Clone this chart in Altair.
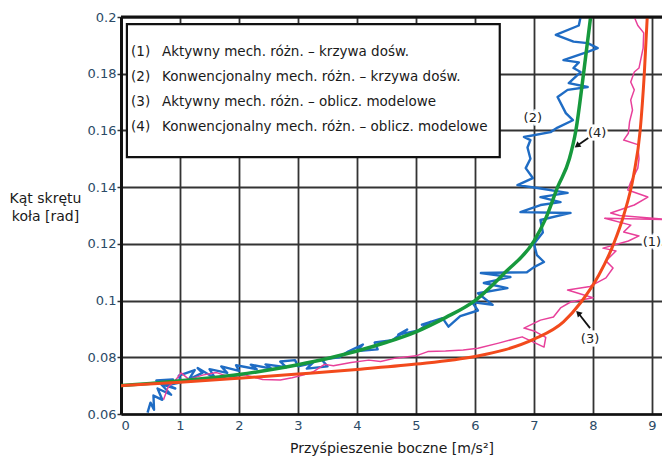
import altair as alt
import pandas as pd

FONT = "DejaVu Sans"

# ---- data ----
x_ticks = [0, 1, 2, 3, 4, 5, 6, 7, 8, 9]
y_ticks = [0.06, 0.08, 0.1, 0.12, 0.14, 0.16, 0.18, 0.2]

# (2) experimental, conventional differential (blue)
blue_x = [0.45, 0.50, 0.56, 0.55, 0.70, 0.62, 0.85, 0.68, 0.92, 0.60, 0.88, 0.75, 1.02, 0.98, 1.25,
          1.15, 1.38, 1.30, 1.60, 1.50, 1.80, 1.70, 2.00, 1.95, 2.30, 2.20, 2.55, 2.45, 2.80, 2.70,
          2.95, 3.00, 3.25, 3.15, 3.50, 3.40,
          3.70, 3.85, 4.10, 4.00, 4.35, 4.30, 4.60, 4.85, 4.70, 5.05, 5.25, 5.10, 5.45, 5.55,
          5.75, 6.05, 5.95, 6.30, 6.05, 6.55, 6.15, 6.60, 6.10, 6.88, 7.00, 7.17, 7.05, 7.00, 7.15,
          7.11, 7.62, 6.77, 7.11, 7.45, 7.11, 7.57, 7.06, 6.72, 6.98, 6.86, 6.94, 6.89, 6.94, 6.83,
          7.28, 7.40, 7.66, 7.54, 7.40, 7.57, 7.91, 7.59, 7.79, 7.67, 7.76, 7.50, 7.91, 8.08, 7.91,
          7.67, 7.37, 7.76, 7.79]
blue_y = [0.0605, 0.0640, 0.0615, 0.0665, 0.0650, 0.0690, 0.0668, 0.0705, 0.0690, 0.0718, 0.0722,
          0.0700, 0.0712, 0.0735, 0.0755, 0.0722, 0.0745, 0.0762, 0.0725, 0.0758, 0.0745, 0.0768,
          0.0752, 0.0772, 0.0758, 0.0774, 0.0760, 0.0775, 0.0765, 0.0785, 0.0790, 0.0768, 0.0780,
          0.0760, 0.0768, 0.0792,
          0.0800, 0.0820,
          0.0845, 0.0822, 0.0828, 0.0852, 0.0860, 0.0898, 0.0880, 0.0895, 0.0925, 0.0915, 0.0938,
          0.0908, 0.0945, 0.0965, 0.0995, 0.0985, 0.1026, 0.1044, 0.1062, 0.1083, 0.1097, 0.1100,
          0.1118, 0.1136, 0.1160, 0.1200, 0.1240, 0.1284, 0.1309, 0.1312, 0.1337, 0.1347, 0.1365,
          0.1380, 0.1397, 0.1407, 0.1432, 0.1467, 0.1500, 0.1540, 0.1566, 0.1577, 0.1594, 0.1610,
          0.1636, 0.1661, 0.1718, 0.1743, 0.1753, 0.1767, 0.1806, 0.1820, 0.1840, 0.1848, 0.1877,
          0.1890, 0.1908, 0.1913, 0.1937, 0.1970, 0.2000]

# (1) experimental, active differential (pink)
pink_x = [0.72, 0.80, 0.92, 1.02, 1.15, 1.40, 1.62, 1.85, 2.10, 2.40, 2.70, 2.90, 3.10, 3.25, 3.45,
          3.60, 3.90, 4.20, 4.40, 4.65, 5.00, 5.20, 5.50, 5.80, 6.05, 6.40, 6.80, 7.17, 7.20, 7.00,
          6.83, 7.11, 7.33, 7.45, 7.62, 8.00, 7.57, 7.95, 8.22, 8.34, 8.22, 8.39, 8.17, 8.60, 8.78,
          8.52, 8.64, 8.20, 9.30, 8.45, 8.30, 8.70, 8.93, 8.59, 8.64, 8.76, 8.78, 8.76, 8.52, 8.60,
          8.62, 8.67, 8.64, 8.70, 8.64, 8.70, 8.78, 8.85, 8.86, 8.76, 8.70]
pink_y = [0.0650, 0.0695, 0.0718, 0.0745, 0.0722, 0.0738, 0.0746, 0.0730, 0.0738, 0.0722, 0.0720,
          0.0728, 0.0738, 0.0748, 0.0775, 0.0770, 0.0782, 0.0790, 0.0785, 0.0797, 0.0805, 0.0820,
          0.0822, 0.0826, 0.0832, 0.0850, 0.0872, 0.0836, 0.0870, 0.0893, 0.0903, 0.0931, 0.0942,
          0.0974, 0.0995, 0.1010, 0.1037, 0.1050, 0.1080, 0.1115, 0.1140, 0.1175, 0.1185, 0.1210,
          0.1228, 0.1242, 0.1266, 0.1290, 0.1285, 0.1300, 0.1309, 0.1337, 0.1365, 0.1390, 0.1418,
          0.1467, 0.1500, 0.1550, 0.1566, 0.1590, 0.1630, 0.1672, 0.1707, 0.1743, 0.1771, 0.1806,
          0.1820, 0.1890, 0.1944, 0.1970, 0.2000]

# (4) model, conventional differential (green)
green_x = [0, 0.5, 1, 1.5, 2, 2.5, 3, 3.5, 4, 4.5, 5, 5.5, 6, 6.5, 7, 7.2, 7.4, 7.6, 7.71, 7.84, 7.96]
green_y = [0.0700, 0.0708, 0.0717, 0.0727, 0.0739, 0.0755, 0.0774, 0.0796, 0.0822, 0.0853, 0.0890,
           0.0940, 0.1000, 0.1097, 0.1210, 0.1290, 0.1400, 0.1500, 0.1600, 0.1800, 0.2000]

# (3) model, active differential (orange-red)
orange_x = [0, 1, 2, 3, 4, 5, 6, 6.5, 7, 7.5, 7.8, 8.1, 8.35, 8.52, 8.69, 8.8, 8.87, 8.92]
orange_y = [0.0700, 0.0712, 0.0726, 0.0741, 0.0757, 0.0776, 0.0803, 0.0826, 0.0864, 0.0925, 0.0995,
            0.1090, 0.1200, 0.1300, 0.1443, 0.1600, 0.1800, 0.2000]

legend_nums = ["(1)", "(2)", "(3)", "(4)"]
legend_texts = ["Aktywny mech. różn. – krzywa dośw.",
                "Konwencjonalny mech. różn. – krzywa dośw.",
                "Aktywny mech. różn. – oblicz. modelowe",
                "Konwencjonalny mech. różn. – oblicz. modelowe"]
legend_rows_y = [0.18765, 0.17884, 0.17002, 0.1612]
legend_box = {"x": [0.1], "x2": [6.42], "y": [0.1975], "y2": [0.1506]}

ann_text = ["(1)", "(2)", "(3)", "(4)"]
ann_x = [9.0, 6.98, 7.95, 8.07]
ann_y = [0.1206, 0.1644, 0.0864, 0.1591]

arrow_tail_x = [7.92, 7.95]
arrow_tail_y = [0.1573, 0.0903]
arrow_head_x = [7.73, 7.75]
arrow_head_y = [0.1546, 0.0956]
arrow_angle = [234, 315]

# ---- chart ----
xs = alt.Scale(domain=[0, 9.17], nice=False, zero=False)
ys = alt.Scale(domain=[0.06, 0.2], nice=False, zero=False)


def path_df(xv, yv):
    return pd.DataFrame({"x": xv, "y": yv, "o": list(range(len(xv)))})


def line_layer(xv, yv, color, width, interp="linear"):
    return alt.Chart(path_df(xv, yv)).mark_line(
        color=color, strokeWidth=width, clip=True, interpolate=interp, strokeJoin="round"
    ).encode(
        x=alt.X("x:Q", scale=xs),
        y=alt.Y("y:Q", scale=ys),
        order="o:Q",
    )


grid_df = pd.DataFrame({"x": [0, 9.17], "y": [0.06, 0.2]})
axes_layer = alt.Chart(grid_df).mark_point(opacity=0).encode(
    x=alt.X("x:Q", scale=xs, axis=alt.Axis(
        values=x_ticks, format="d", title="Przyśpieszenie boczne [m/s²]",
        grid=True, gridColor="#333333", gridWidth=1.8,
        domainColor="#111111", domainWidth=2.5, ticks=False,
        labelFont=FONT, labelFontSize=13, labelColor="#2b4a66", labelPadding=5,
        titleFont=FONT, titleFontSize=14, titleFontWeight="normal", titleColor="#1a1a1a",
        titlePadding=9)),
    y=alt.Y("y:Q", scale=ys, axis=alt.Axis(
        values=y_ticks, format="~g", title=["Kąt skrętu", "koła [rad]"],
        grid=True, gridColor="#333333", gridWidth=1.8,
        domainColor="#111111", domainWidth=3, ticks=True, tickSize=4, tickColor="#333333",
        tickWidth=1.5, labelFont=FONT, labelFontSize=13, labelColor="#2b4a66", labelPadding=1,
        titleFont=FONT, titleFontSize=14, titleFontWeight="normal", titleColor="#1a1a1a",
        titleAngle=0, titleAlign="center", titleBaseline="top", titleX=-76, titleY=174,
        titleLineHeight=18)),
)

top_border = alt.Chart(pd.DataFrame({"x": [0], "x2": [9.17], "y": [0.2]})).mark_rule(
    color="#111111", strokeWidth=3
).encode(x=alt.X("x:Q", scale=xs), x2="x2:Q", y=alt.Y("y:Q", scale=ys))

blue = line_layer(blue_x, blue_y, "#1f6cc4", 2.4)
pink = line_layer(pink_x, pink_y, "#e8409a", 1.5)
green = line_layer(green_x, green_y, "#17993d", 3.5, "monotone")
orange = line_layer(orange_x, orange_y, "#f24a1c", 3, "monotone")

legend_rect = alt.Chart(pd.DataFrame(legend_box)).mark_rect(
    fill="white", stroke="#111111", strokeWidth=2.2
).encode(x=alt.X("x:Q", scale=xs), x2="x2:Q",
         y=alt.Y("y:Q", scale=ys), y2="y2:Q")

leg_df = pd.DataFrame({"n": legend_nums, "t": legend_texts, "y": legend_rows_y,
                       "xn": [0.17] * 4, "xt": [0.695] * 4})
leg_nums = alt.Chart(leg_df).mark_text(
    align="left", baseline="middle", font=FONT, fontSize=13.5, color="#1a1a1a"
).encode(x=alt.X("xn:Q", scale=xs), y=alt.Y("y:Q", scale=ys), text="n:N")
leg_texts = alt.Chart(leg_df).mark_text(
    align="left", baseline="middle", font=FONT, fontSize=13.5, color="#1a1a1a"
).encode(x=alt.X("xt:Q", scale=xs), y=alt.Y("y:Q", scale=ys), text="t:N")

ann_df = pd.DataFrame({"t": ann_text, "x": ann_x, "y": ann_y})
ann_halo = alt.Chart(ann_df).mark_text(
    align="center", baseline="middle", font=FONT, fontSize=13, color="white",
    stroke="white", strokeWidth=5
).encode(x=alt.X("x:Q", scale=xs), y=alt.Y("y:Q", scale=ys), text="t:N")
ann = alt.Chart(ann_df).mark_text(
    align="center", baseline="middle", font=FONT, fontSize=13, color="#222222"
).encode(x=alt.X("x:Q", scale=xs), y=alt.Y("y:Q", scale=ys), text="t:N")

arr_df = pd.DataFrame({"x": arrow_tail_x, "y": arrow_tail_y, "x2": arrow_head_x, "y2": arrow_head_y,
                       "a": arrow_angle})
arr_lines = alt.Chart(arr_df).mark_rule(color="#111111", strokeWidth=1.8).encode(
    x=alt.X("x:Q", scale=xs), y=alt.Y("y:Q", scale=ys), x2="x2:Q", y2="y2:Q")
arr_heads = alt.Chart(arr_df).mark_point(
    shape="triangle-up", filled=True, color="#111111", size=45, opacity=1
).encode(x=alt.X("x2:Q", scale=xs), y=alt.Y("y2:Q", scale=ys),
         angle=alt.Angle("a:Q", scale=None))

chart = alt.layer(
    axes_layer, blue, pink, green, orange, top_border, legend_rect, leg_nums, leg_texts,
    ann_halo, ann, arr_lines, arr_heads
).properties(
    width=541, height=397, autosize="none",
    padding={"left": 113, "top": 9, "right": 0, "bottom": 46},
    background="white",
).configure_view(stroke=None)

chart.save("out.html", embed_options={"renderer": "svg", "actions": False})
